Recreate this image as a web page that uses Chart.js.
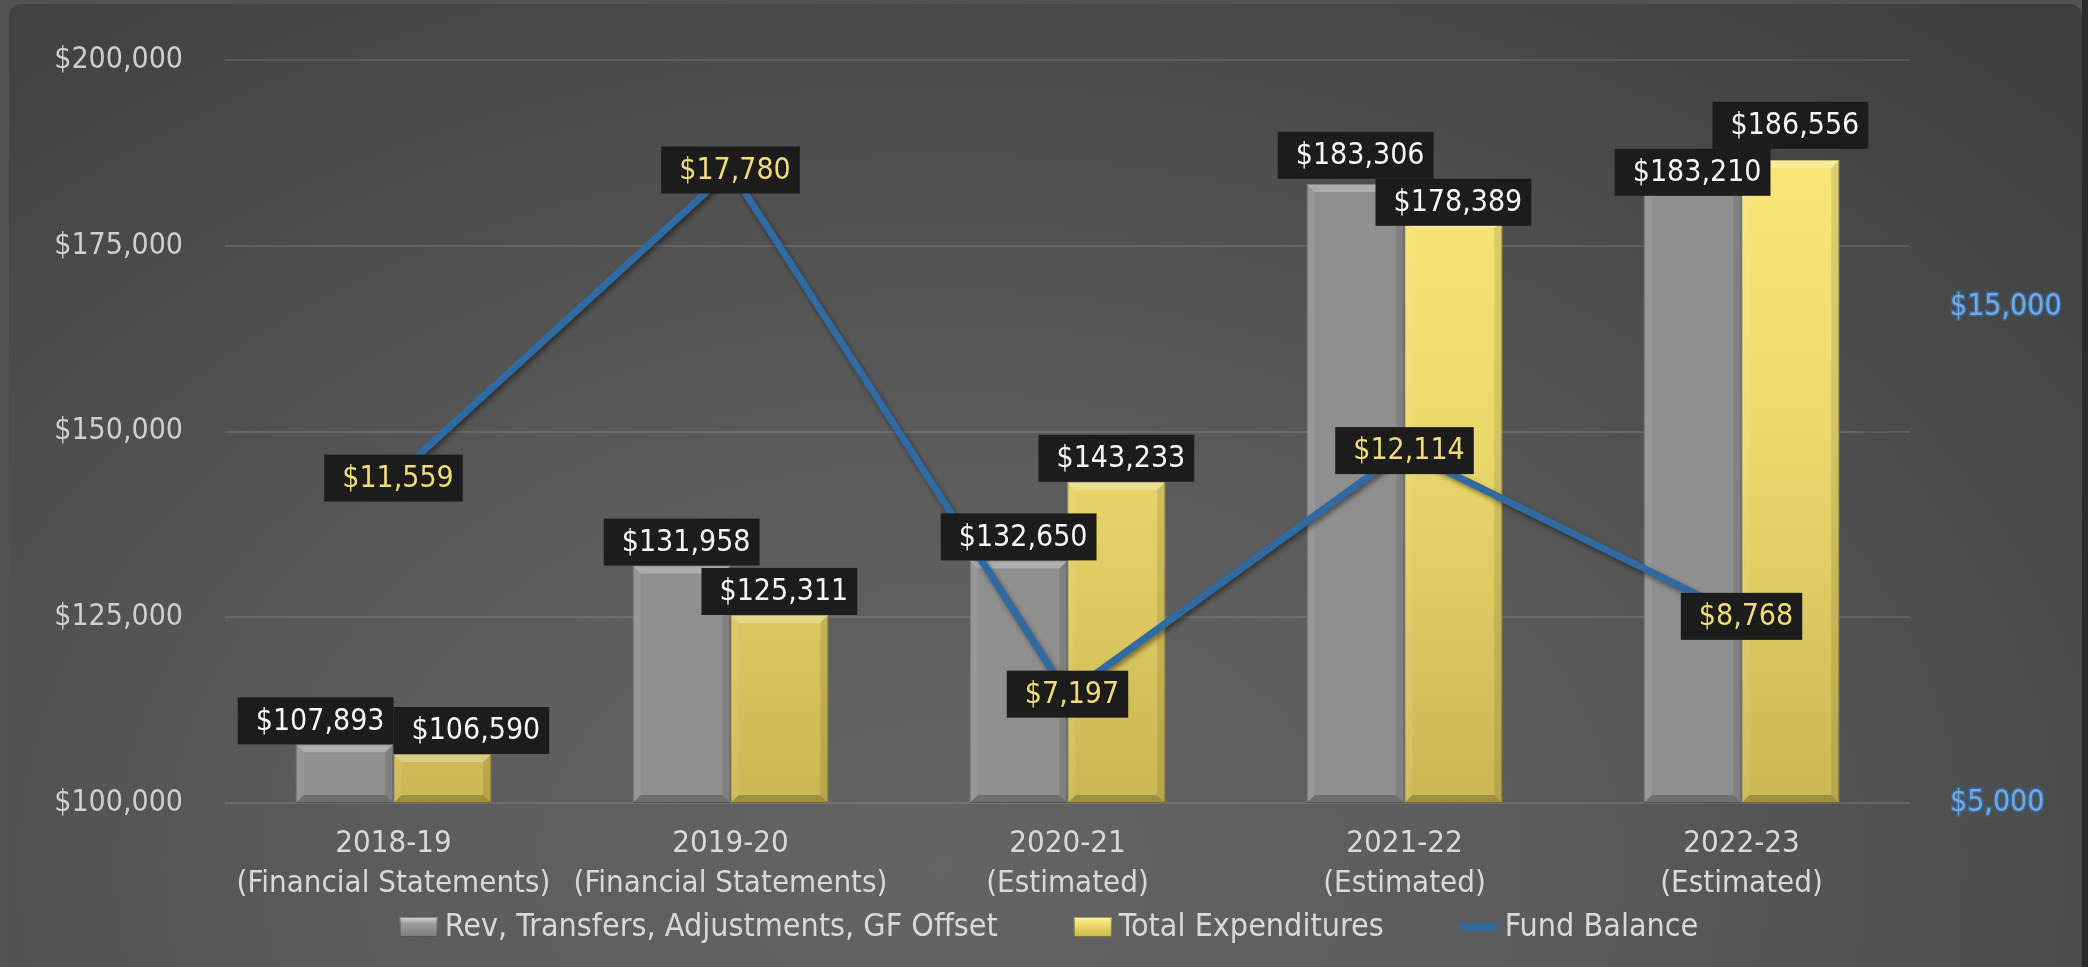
<!DOCTYPE html>
<html>
<head>
<meta charset="utf-8">
<script src="https://cdn.jsdelivr.net/npm/chart.js@4.4.1/dist/chart.umd.min.js"></script>
<style>
  html, body { margin: 0; padding: 0; }
  body { width: 2088px; height: 967px; background: #525252; overflow: hidden; position: relative; }
  #panel {
    position: absolute; left: 9px; top: 4px; width: 2073px; height: 980px; border-radius: 12px;
    background: radial-gradient(ellipse 78% 115% at 45% 88%, #646464 0%, #5c5c5c 35%, #4d4d4d 68%, #3e3e3e 100%);
  }
  #edge { position: absolute; left: 2082px; top: 0; width: 6px; height: 967px; background: #2a2a2a; }
  #wrap { position: absolute; left: 0; top: 0; width: 2088px; height: 967px; }
</style>
</head>
<body>
<div id="panel"></div>
<div id="edge"></div>
<div id="wrap"><canvas id="grafico"></canvas></div>
<script>
// Datos del gráfico
const years = ["2018-19", "2019-20", "2020-21", "2021-22", "2022-23"];
const notes = ["(Financial Statements)", "(Financial Statements)", "(Estimated)", "(Estimated)", "(Estimated)"];
const revenues = [107893, 131958, 132650, 183306, 183210];
const expenditures = [106590, 125311, 143233, 178389, 186556];
const fundBalance = [11559, 17780, 7197, 12114, 8768];
const leftTicks = [100000, 125000, 150000, 175000, 200000];
const rightTicks = [5000, 15000];
const seriesNames = ["Rev, Transfers, Adjustments, GF Offset", "Total Expenditures", "Fund Balance"];

const FONT = '"DejaVu Sans Condensed", "DejaVu Sans", sans-serif';
const money = v => "$" + v.toLocaleString("en-US");

const GRAY = "#8f8f8f";
const BLUE = "#2f6aa3";

function yellowFill(c) {
    const area = c.chart.chartArea;
    if (!area) return "#efdc6e";
    const g = c.chart.ctx.createLinearGradient(0, area.top, 0, area.bottom);
    g.addColorStop(0, "#fbeb7c");
    g.addColorStop(0.5, "#ecd96c");
    g.addColorStop(1, "#cbb753");
    return g;
}

// Biseles de las barras y sombra de la línea
const efectos = {
    id: "efectos",
    beforeDatasetDraw(chart, args) {
        if (args.meta.type === "line") {
            const ctx = chart.ctx;
            ctx.save();
            ctx.shadowColor = "rgba(0,0,0,0.45)";
            ctx.shadowBlur = 5;
            ctx.shadowOffsetX = 2;
            ctx.shadowOffsetY = 3;
        }
    },
    afterDatasetDraw(chart, args) {
        const ctx = chart.ctx;
        if (args.meta.type === "line") { ctx.restore(); return; }
        const area = chart.chartArea;
        ctx.save();
        args.meta.data.forEach(el => {
            const L = el.x - el.width / 2, R = el.x + el.width / 2, T = el.y;
            const B = Math.min(el.base, area.bottom);
            const b = 8;
            const poly = (pts, color) => {
                ctx.beginPath();
                ctx.moveTo(pts[0][0], pts[0][1]);
                pts.slice(1).forEach(p => ctx.lineTo(p[0], p[1]));
                ctx.closePath();
                ctx.fillStyle = color;
                ctx.fill();
            };
            poly([[L, T], [R, T], [R - b, T + b], [L + b, T + b]], "rgba(255,255,255,0.28)");
            poly([[L, T], [L + b, T + b], [L + b, B - b], [L, B]], "rgba(255,255,255,0.08)");
            poly([[R, T], [R - b, T + b], [R - b, B - b], [R, B]], "rgba(0,0,0,0.10)");
            poly([[L, B], [R, B], [R - b, B - b], [L + b, B - b]], "rgba(0,0,0,0.22)");
            ctx.strokeStyle = "rgba(0,0,0,0.25)";
            ctx.lineWidth = 1;
            ctx.strokeRect(L + 0.5, T + 0.5, el.width - 1, B - T - 1);
        });
        ctx.restore();
    }
};

// Etiquetas de datos con fondo negro
const etiquetas = {
    id: "etiquetas",
    afterDatasetsDraw(chart) {
        const ctx = chart.ctx;
        ctx.save();
        ctx.font = `30px ${FONT}`;
        ctx.textBaseline = "middle";
        ctx.textAlign = "left";
        const h = 47, padL = 18, padR = 9;
        const box = (cx, bottom, text) => {
            const w = ctx.measureText(text).width + padL + padR;
            return { x: cx - w / 2, y: bottom - h, w, text };
        };
        const draw = (bx, color) => {
            ctx.fillStyle = "#1c1c1c";
            ctx.fillRect(bx.x, bx.y, bx.w, h);
            ctx.fillStyle = color;
            ctx.fillText(bx.text, bx.x + padL, bx.y + h / 2 + 1);
        };
        const g = chart.getDatasetMeta(0).data;
        const y = chart.getDatasetMeta(1).data;
        years.forEach((_, i) => {
            const a = box(g[i].x, g[i].y, money(revenues[i]));
            const b = box(y[i].x, y[i].y, money(expenditures[i]));
            const hOver = a.x + a.w - b.x;
            const vOver = Math.min(a.y + h, b.y + h) - Math.max(a.y, b.y);
            if (hOver > 0 && vOver > 0) {
                if (vOver < h / 2) {
                    const upper = a.y <= b.y ? a : b;
                    const lower = upper === a ? b : a;
                    upper.y -= vOver / 2;
                    lower.y += vOver / 2;
                } else {
                    a.x -= hOver / 2;
                    b.x += hOver / 2;
                }
            }
            draw(a, "#f7f7f7");
            draw(b, "#f7f7f7");
        });
        chart.getDatasetMeta(2).data.forEach((p, i) => {
            draw(box(p.x, p.y + h / 2, money(fundBalance[i])), "#f0dc78");
        });
        ctx.restore();
    }
};

// Leyenda dibujada a mano
const leyenda = {
    id: "leyenda",
    afterDraw(chart) {
        const ctx = chart.ctx;
        ctx.save();
        ctx.font = `32px ${FONT}`;
        ctx.textBaseline = "middle";
        ctx.textAlign = "left";
        const iconW = 38, iconH = 20, gap = 7, itemGap = 76, cy = 927;
        const widths = seriesNames.map(t => iconW + gap + ctx.measureText(t).width);
        const total = widths.reduce((s, w) => s + w, 0) + itemGap * (widths.length - 1);
        let x = chart.width / 2 - total / 2 + 5;
        seriesNames.forEach((name, i) => {
            if (i < 2) {
                const grad = ctx.createLinearGradient(0, cy - iconH / 2, 0, cy + iconH / 2);
                if (i === 0) { grad.addColorStop(0, "#d8d8d8"); grad.addColorStop(0.35, "#9a9a9a"); grad.addColorStop(1, "#7e7e7e"); }
                else { grad.addColorStop(0, "#fff3a0"); grad.addColorStop(0.35, "#eedc6c"); grad.addColorStop(1, "#c9b550"); }
                ctx.fillStyle = grad;
                ctx.fillRect(x, cy - iconH / 2, iconW, iconH);
                ctx.strokeStyle = "rgba(0,0,0,0.35)";
                ctx.lineWidth = 1;
                ctx.strokeRect(x + 0.5, cy - iconH / 2 + 0.5, iconW - 1, iconH - 1);
            } else {
                ctx.strokeStyle = BLUE;
                ctx.lineWidth = 8;
                ctx.lineCap = "round";
                ctx.beginPath();
                ctx.moveTo(x + 4, cy);
                ctx.lineTo(x + iconW - 4, cy);
                ctx.stroke();
            }
            ctx.fillStyle = "#d9d9d9";
            ctx.fillText(name, x + iconW + gap, cy + 1);
            x += widths[i] + itemGap;
        });
        ctx.restore();
    }
};

const ctx = document.getElementById("grafico").getContext("2d");
new Chart(ctx, {
    type: "bar",
    data: {
        labels: years.map((y, i) => [y, notes[i]]),
        datasets: [
            {
                label: seriesNames[0],
                data: revenues,
                backgroundColor: GRAY,
                borderWidth: 0,
                yAxisID: "y",
                order: 1,
                categoryPercentage: 0.58,
                barPercentage: 1.0
            },
            {
                label: seriesNames[1],
                data: expenditures,
                backgroundColor: yellowFill,
                borderWidth: 0,
                yAxisID: "y",
                order: 1,
                categoryPercentage: 0.58,
                barPercentage: 1.0
            },
            {
                type: "line",
                label: seriesNames[2],
                data: fundBalance,
                borderColor: BLUE,
                borderWidth: 7,
                pointRadius: 0,
                tension: 0,
                yAxisID: "y1",
                order: 0
            }
        ]
    },
    options: {
        responsive: true,
        maintainAspectRatio: false,
        animation: false,
        layout: { padding: { top: 59, left: 0, right: 0, bottom: 66 } },
        plugins: {
            legend: { display: false },
            tooltip: { enabled: false }
        },
        scales: {
            x: {
                grid: { display: false, drawTicks: false },
                border: { display: false },
                ticks: {
                    color: "#d9d9d9",
                    font: { family: FONT, size: 31, lineHeight: 1.3 },
                    padding: 21,
                    maxRotation: 0,
                    autoSkip: false
                },
                afterFit(s) { s.height = 98; }
            },
            y: {
                position: "left",
                min: 100000,
                max: 200000,
                afterBuildTicks(s) { s.ticks = leftTicks.map(v => ({ value: v })); },
                ticks: {
                    callback: v => money(v),
                    color: "#cfcfcf",
                    font: { family: FONT, size: 30 },
                    padding: 42
                },
                grid: { color: "rgba(255,255,255,0.11)", lineWidth: 2, drawTicks: false },
                border: { display: false },
                afterFit(s) { s.width = 225; }
            },
            y1: {
                position: "right",
                min: 5000,
                max: 20000,
                afterBuildTicks(s) { s.ticks = rightTicks.map(v => ({ value: v })); },
                ticks: {
                    callback: v => money(v),
                    color: "#7ea7d6",
                    textStrokeColor: BLUE,
                    textStrokeWidth: 3,
                    font: { family: FONT, size: 30 },
                    padding: 40
                },
                grid: { display: false, drawTicks: false },
                border: { display: false },
                afterFit(s) { s.width = 178; }
            }
        }
    },
    plugins: [efectos, etiquetas, leyenda]
});
</script>
</body>
</html>
